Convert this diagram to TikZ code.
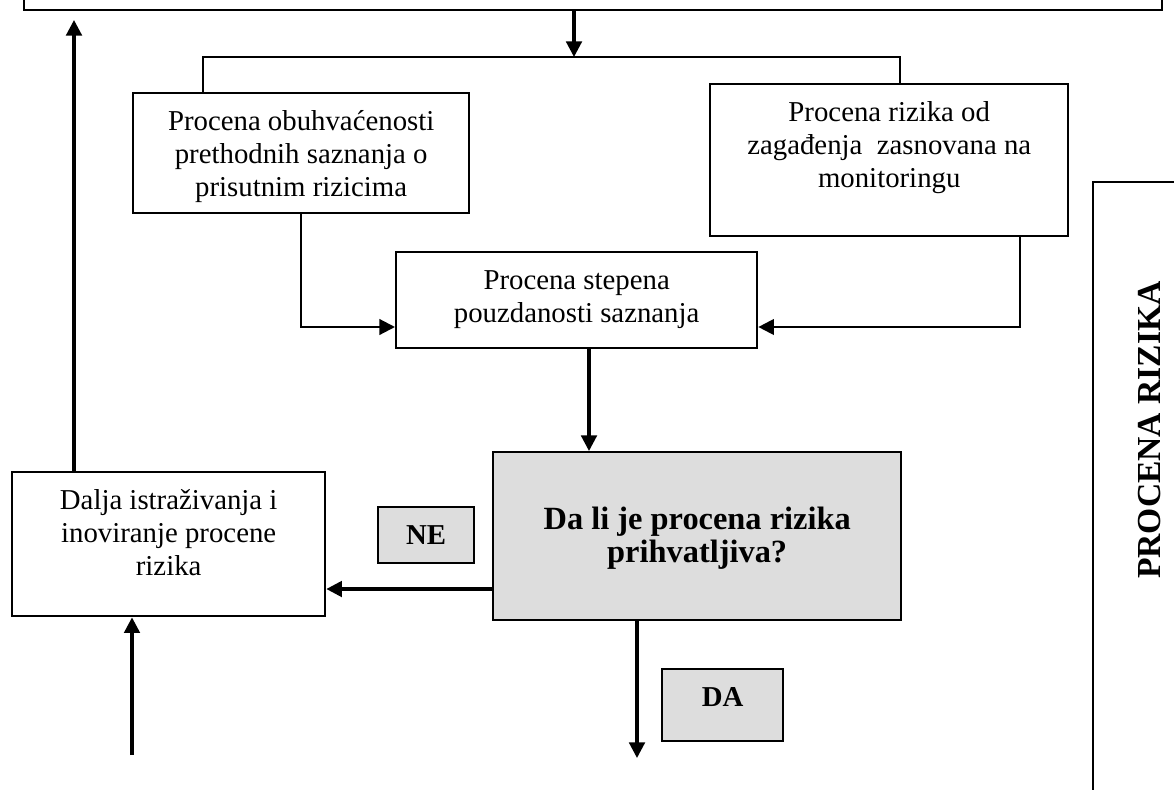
\documentclass[tikz,border=0pt]{standalone}
\usepackage{fontspec}
\setmainfont{Liberation Serif}
\usetikzlibrary{arrows.meta,positioning}
\definecolor{qgray}{RGB}{221,221,221}

\begin{document}
\begin{tikzpicture}[x=0.4167pt, y=-0.4167pt,
    box/.style={rectangle, draw, line width=1pt, inner sep=0pt, align=center, text height=15.4pt, font=\fontsize{12}{13.9}\selectfont},
    question/.style={box, fill=qgray, font=\fontsize{13.5}{13.9}\selectfont\bfseries},
    answer/.style={box, fill=qgray, font=\fontsize{12}{13.9}\selectfont\bfseries},
    frame/.style={rectangle, draw, line width=1pt, inner sep=0pt},
    link/.style={line width=0.9pt},
    arrow/.style={line width=1.3pt, -{Triangle[length=6.5pt, width=6.5pt]}},
    thinarrow/.style={arrow, line width=0.9pt}]

    \clip (0,0) rectangle (1174,789);

    \node[frame, anchor=south west, minimum width=474.2pt, minimum height=30pt] (plan) at (23,11) {};
    \node[box, anchor=north west, minimum width=140pt, text height=43.2pt, text depth=6.8pt] (obuhvat) at (132,92) {Procena obuhvaćenosti\\prethodnih saznanja o\\prisutnim rizicima};
    \node[box, anchor=north west, minimum width=149.2pt, text height=43.2pt, text depth=20.1pt] (rizik) at (709,83) {Procena rizika od\\zagađenja\ \ zasnovana na\\monitoringu};
    \node[box, anchor=north west, minimum width=150.4pt, text height=29.3pt, text depth=10.7pt] (stepen) at (395,251) {Procena stepena\\pouzdanosti saznanja};
    \node[question, anchor=north west, minimum width=170pt, text height=46pt, text depth=24pt] (pitanje) at (492,451) {Da li je procena rizika\\prihvatljiva?};
    \node[box, anchor=north west, minimum width=130.4pt, text height=43.2pt, text depth=16.8pt] (dalja) at (11,471) {Dalja istraživanja i\\inoviranje procene\\rizika};
    \node[answer, anchor=north west, minimum width=40pt, text depth=7.9pt] (ne) at (377,506) {NE};
    \node[answer, anchor=north west, minimum width=50.4pt, text depth=14.6pt] (da) at (661,668) {DA};
    \node[frame, anchor=north west, minimum width=40pt, minimum height=280pt] (okvir) at (1092,181) {};
    \node[rotate=90, font=\fontsize{14}{16}\selectfont\bfseries] (naslov) at (1150,430) {PROCENA RIZIKA};

    \coordinate (splitL) at (203,57);
    \coordinate (splitM) at (574,57);
    \coordinate (splitR) at (900,57);
    \coordinate (joinY) at (0,327);
    \coordinate (rizikOut) at (1020,0);
    \coordinate (stepenOut) at (589,0);
    \coordinate (neY) at (0,589);
    \coordinate (daEnd) at (637,758);
    \coordinate (feedStart) at (132,755);
    \coordinate (loopEnd) at (74,20);

    \draw[arrow] (plan.south -| splitM) -- (splitM);
    \draw[link] (obuhvat.north -| splitL) |- (splitR) -- (rizik.north -| splitR);
    \draw[thinarrow] (obuhvat.south) |- (stepen.west |- joinY);
    \draw[thinarrow] (rizik.south -| rizikOut) |- (stepen.east |- joinY);
    \draw[arrow] (stepen.south -| stepenOut) -- (pitanje.north -| stepenOut);
    \draw[arrow] (pitanje.west |- neY) -- (dalja.east |- neY);
    \draw[arrow] (pitanje.south -| daEnd) -- (daEnd);
    \draw[arrow] (feedStart) -- (dalja.south -| feedStart);
    \draw[arrow] (dalja.north -| loopEnd) -- (loopEnd);

\end{tikzpicture}
\end{document}
